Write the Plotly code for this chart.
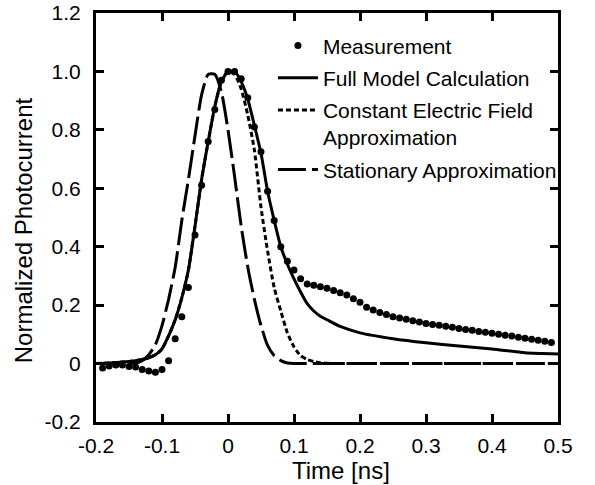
import plotly.graph_objects as go

# Measurement (0.01 ns spacing)
meas_t = [round(-0.19 + 0.01 * i, 2) for i in range(69)]
meas_y = [-0.015, -0.008, -0.005, -0.005, -0.010, -0.012, -0.020, -0.025, -0.030, -0.020,
          0.010, 0.085, 0.160, 0.260, 0.440, 0.610, 0.760, 0.870, 0.970, 1.000,
          1.000, 0.975, 0.910, 0.810, 0.725, 0.590, 0.490, 0.400, 0.350, 0.320,
          0.290, 0.272, 0.268, 0.263, 0.258, 0.250, 0.242, 0.235, 0.222, 0.210,
          0.193, 0.183, 0.175, 0.168, 0.160, 0.156, 0.152, 0.147, 0.142, 0.137,
          0.134, 0.131, 0.128, 0.124, 0.120, 0.117, 0.114, 0.110, 0.107, 0.104,
          0.100, 0.097, 0.094, 0.090, 0.087, 0.083, 0.080, 0.076, 0.072]

model_t = [-0.20, -0.18, -0.16, -0.14, -0.13, -0.12, -0.11, -0.10, -0.09, -0.08,
           -0.07, -0.06, -0.05, -0.04, -0.03, -0.02, -0.01, 0.00, 0.01, 0.02,
           0.03, 0.04, 0.05, 0.06, 0.07, 0.08, 0.09, 0.10, 0.11, 0.12,
           0.13, 0.14, 0.15, 0.17, 0.20, 0.25, 0.30, 0.35, 0.40, 0.45, 0.50]

full_model = [0.000, 0.002, 0.005, 0.010, 0.014, 0.020, 0.030, 0.050, 0.095, 0.150,
              0.225, 0.320, 0.470, 0.630, 0.760, 0.880, 0.965, 1.000, 1.000, 0.965,
              0.905, 0.815, 0.720, 0.590, 0.490, 0.400, 0.340, 0.290, 0.245, 0.205,
              0.180, 0.162, 0.150, 0.127, 0.105, 0.085, 0.071, 0.060, 0.050, 0.037, 0.033]

const_field = [0.000, 0.002, 0.005, 0.010, 0.014, 0.020, 0.030, 0.050, 0.095, 0.150,
               0.225, 0.320, 0.470, 0.630, 0.760, 0.880, 0.965, 1.000, 0.990, 0.940,
               0.850, 0.730, 0.535, 0.385, 0.260, 0.180, 0.105, 0.057, 0.027, 0.014,
               0.007, 0.003, 0.001, 0.000, 0.000, 0.000, 0.000, 0.000, 0.000, 0.000, 0.000]

stationary = [0.000, 0.000, 0.000, 0.002, 0.010, 0.030, 0.065, 0.130, 0.220, 0.330,
              0.490, 0.630, 0.780, 0.920, 0.990, 0.990, 0.930, 0.800, 0.640, 0.470,
              0.330, 0.220, 0.130, 0.062, 0.027, 0.010, 0.002, 0.000, 0.000, 0.000,
              0.000, 0.000, 0.000, 0.000, 0.000, 0.000, 0.000, 0.000, 0.000, 0.000, 0.000]

x_ticks = [-0.2, -0.1, 0, 0.1, 0.2, 0.3, 0.4, 0.5]
x_labels = ["-0.2", "-0.1", "0", "0.1", "0.2", "0.3", "0.4", "0.5"]
y_ticks = [-0.2, 0, 0.2, 0.4, 0.6, 0.8, 1.0, 1.2]
y_labels = ["-0.2", "0", "0.2", "0.4", "0.6", "0.8", "1.0", "1.2"]

x_title = "Time [ns]"
y_title = "Normalized Photocurrent"

FONT = "Liberation Sans, Arial, sans-serif"

fig = go.Figure()
fig.add_trace(go.Scatter(x=meas_t, y=meas_y, mode="markers", name="Measurement",
                         marker=dict(color="black", size=7), legendgroup="a"))
fig.add_trace(go.Scatter(x=model_t, y=full_model, mode="lines", name="Full Model Calculation",
                         line=dict(color="black", width=3, shape="spline", smoothing=0.6),
                         legendgroup="b"))
fig.add_trace(go.Scatter(x=model_t, y=const_field, mode="lines",
                         name="Constant Electric Field<br>Approximation",
                         line=dict(color="black", width=3, dash="5px,3px", shape="spline", smoothing=0.6),
                         legendgroup="c"))
fig.add_trace(go.Scatter(x=model_t, y=stationary, mode="lines", name="Stationary Approximation",
                         line=dict(color="black", width=3, dash="28px,6px", shape="spline", smoothing=0.6),
                         legendgroup="d"))

axis_common = dict(showline=True, linewidth=3, linecolor="black", mirror="ticks",
                   ticks="inside", ticklen=8, tickwidth=3, tickcolor="black",
                   showgrid=False, zeroline=False, automargin=False,
                   ticklabeloverflow="allow",
                   tickfont=dict(family=FONT, size=21, color="black"))

fig.update_xaxes(range=[-0.2, 0.5], tickvals=x_ticks, ticktext=x_labels,
                 ticklabelstandoff=3, **axis_common)
fig.update_yaxes(range=[-0.2, 1.2], tickvals=y_ticks, ticktext=y_labels,
                 ticklabelstandoff=8, **axis_common)

fig.add_annotation(text=x_title, xref="paper", yref="paper", x=0.53, y=-0.118,
                   xanchor="center", yanchor="middle", showarrow=False,
                   font=dict(family=FONT, size=24, color="black"))
fig.add_annotation(text=y_title, xref="paper", yref="paper", x=-0.157, y=0.47,
                   xanchor="center", yanchor="middle", showarrow=False, textangle=-90,
                   font=dict(family=FONT, size=24, color="black"))

fig.update_layout(
    width=595, height=485,
    margin=dict(l=96, r=37, t=13, b=63),
    plot_bgcolor="white", paper_bgcolor="white",
    font=dict(family=FONT, size=21, color="black"),
    showlegend=True,
    legend=dict(x=0.383, y=0.970, xanchor="left", yanchor="top",
                bgcolor="rgba(0,0,0,0)", tracegroupgap=2, valign="top",
                font=dict(family=FONT, size=21, color="black"),
                itemwidth=40),
)

fig.write_html("out.html", config={"displayModeBar": False},
               post_script="document.body.style.margin='0px';")
